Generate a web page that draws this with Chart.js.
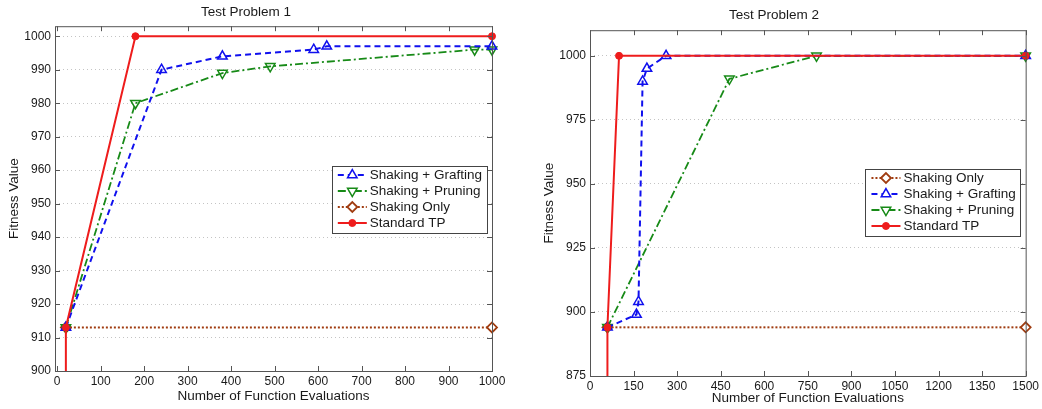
<!DOCTYPE html>
<html>
<head>
<meta charset="utf-8">
<script src="https://cdn.jsdelivr.net/npm/chart.js@4.4.1/dist/chart.umd.min.js"></script>
<style>
    html, body { margin: 0; padding: 0; background: #fff; }
    .wrap { position: absolute; top: 0; height: 409px; }
    #w1 { left: 0; width: 520px; }
    #w2 { left: 520px; width: 522px; }
</style>
</head>
<body>
<div class="wrap" id="w1"><canvas id="chart1"></canvas></div>
<div class="wrap" id="w2"><canvas id="chart2"></canvas></div>
<script>
// Test Problem 1 data
const tp1XTicks = [0, 100, 200, 300, 400, 500, 600, 700, 800, 900, 1000];
const tp1YTicks = [900, 910, 920, 930, 940, 950, 960, 970, 980, 990, 1000];
const tp1GraftX = [20, 240, 380, 590, 620, 1000];
const tp1GraftY = [913, 990, 994, 996, 997, 997];
const tp1PruneX = [20, 180, 380, 490, 960, 1000];
const tp1PruneY = [913, 980, 989, 991, 996, 996];
const tp1ShakeX = [20, 1000];
const tp1ShakeY = [913, 913];
const tp1StdX = [20, 20, 180, 1000];
const tp1StdY = [880, 913, 1000, 1000];

// Test Problem 2 data
const tp2XTicks = [0, 150, 300, 450, 600, 750, 900, 1050, 1200, 1350, 1500];
const tp2YTicks = [875, 900, 925, 950, 975, 1000];
const tp2ShakeX = [60, 1500];
const tp2ShakeY = [894, 894];
const tp2GraftX = [60, 160, 167, 181, 196, 262, 1500];
const tp2GraftY = [894, 899, 904, 990, 995, 1000, 1000];
const tp2PruneX = [60, 480, 780, 1500];
const tp2PruneY = [894, 991, 1000, 1000];
const tp2StdX = [60, 60, 100, 1500];
const tp2StdY = [860, 894, 1000, 1000];

const FONT = '"Liberation Sans", Arial, Helvetica, sans-serif';
const TEXT = '#1a1a1a';
const AXIS = '#555555';

function pts(xs, ys) {
    return xs.map((x, i) => ({ x: x, y: ys[i] }));
}

// Series styles (MATLAB-like)
function graftSet(xs, ys) {
    return {
        label: 'Shaking + Grafting', data: pts(xs, ys),
        borderColor: '#1010ee', borderWidth: 2, borderDash: [6, 4],
        pointStyle: 'triangle', pointRadius: 5.5, pointBorderWidth: 1.5,
        pointBackgroundColor: 'rgba(255,255,255,0)', pointBorderColor: '#1010ee',
        order: 2, clip: { left: 10, right: 10, top: 10, bottom: 10 }
    };
}
function pruneSet(xs, ys) {
    return {
        label: 'Shaking + Pruning', data: pts(xs, ys),
        borderColor: '#178a17', borderWidth: 1.8, borderDash: [8, 3, 2, 3],
        pointStyle: 'triangle', pointRotation: 180, pointRadius: 5.5, pointBorderWidth: 1.5,
        pointBackgroundColor: 'rgba(255,255,255,0)', pointBorderColor: '#178a17',
        order: 3, clip: { left: 10, right: 10, top: 10, bottom: 10 }
    };
}
function shakeSet(xs, ys) {
    return {
        label: 'Shaking Only', data: pts(xs, ys),
        borderColor: '#a03c10', borderWidth: 2, borderDash: [2, 2],
        pointStyle: 'rectRot', pointRadius: 5, pointBorderWidth: 1.8,
        pointBackgroundColor: '#ffffff', pointBorderColor: '#a03c10',
        order: 4, clip: { left: 10, right: 10, top: 10, bottom: 10 }
    };
}
function stdSet(xs, ys) {
    return {
        label: 'Standard TP', data: pts(xs, ys),
        borderColor: '#ee1c1c', borderWidth: 2,
        pointStyle: 'circle', pointRadius: xs.map((x, i) => i === 0 ? 0 : 3.5), pointBorderWidth: 1,
        pointBackgroundColor: '#ee1c1c', pointBorderColor: '#ee1c1c',
        order: 1, clip: { left: 10, right: 10, top: 10, bottom: 0 }
    };
}

// Box, inward ticks and legend drawn MATLAB style
const matlabPlugin = {
    id: 'matlab',
    afterDatasetsDraw(chart, args, opts) {
        const ctx = chart.ctx;
        const a = chart.chartArea;
        const xs = chart.scales.x, ys = chart.scales.y;
        ctx.save();
        ctx.strokeStyle = AXIS;
        ctx.lineWidth = 1;
        ctx.setLineDash([]);
        ctx.strokeRect(a.left + 0.5, a.top + 0.5, a.right - a.left, a.bottom - a.top);
        ctx.beginPath();
        xs.ticks.forEach(t => {
            const px = Math.round(xs.getPixelForValue(t.value)) + 0.5;
            ctx.moveTo(px, a.bottom); ctx.lineTo(px, a.bottom - 5);
            ctx.moveTo(px, a.top); ctx.lineTo(px, a.top + 5);
        });
        ys.ticks.forEach(t => {
            const py = Math.round(ys.getPixelForValue(t.value)) + 0.5;
            ctx.moveTo(a.left, py); ctx.lineTo(a.left + 5, py);
            ctx.moveTo(a.right, py); ctx.lineTo(a.right - 5, py);
        });
        ctx.stroke();

        // legend
        ctx.font = '13.5px ' + FONT;
        const items = opts.order.map(i => chart.data.datasets[i]);
        let tw = 0;
        items.forEach(d => { tw = Math.max(tw, ctx.measureText(d.label).width); });
        const rowH = 16;
        const w = 38 + tw + 5;
        const h = items.length * rowH + 3;
        const right = a.right - 5;
        const left = right - w;
        const top = opts.top;
        ctx.fillStyle = '#ffffff';
        ctx.fillRect(left, top, w, h);
        ctx.strokeStyle = '#444444';
        ctx.strokeRect(Math.round(left) + 0.5, top + 0.5, Math.round(w), h);
        items.forEach((d, i) => {
            const cy = top + 9 + i * rowH;
            ctx.strokeStyle = d.borderColor;
            ctx.lineWidth = d.borderWidth;
            ctx.setLineDash(d.borderDash || []);
            ctx.beginPath();
            ctx.moveTo(left + 6, cy);
            ctx.lineTo(left + 35, cy);
            ctx.stroke();
            ctx.setLineDash([]);
            ctx.strokeStyle = d.pointBorderColor;
            ctx.fillStyle = d.pointBackgroundColor === 'rgba(255,255,255,0)' ? '#ffffff' : d.pointBackgroundColor;
            ctx.lineWidth = d.pointBorderWidth;
            const r = Array.isArray(d.pointRadius) ? d.pointRadius[1] : d.pointRadius;
            Chart.helpers.drawPoint(ctx, {
                pointStyle: d.pointStyle, rotation: d.pointRotation || 0,
                radius: r, borderWidth: d.pointBorderWidth
            }, left + 20.5, cy);
            ctx.fillStyle = TEXT;
            ctx.textBaseline = 'middle';
            ctx.textAlign = 'left';
            ctx.fillText(d.label, left + 38, cy + 0.5);
        });
        ctx.restore();
    }
};

function makeChart(id, cfg) {
    return new Chart(document.getElementById(id), {
        type: 'line',
        data: { datasets: cfg.datasets },
        options: {
            responsive: true,
            maintainAspectRatio: false,
            animation: false,
            layout: { padding: { left: 0, right: cfg.padRight, top: 0, bottom: 0 } },
            plugins: {
                legend: { display: false },
                tooltip: { enabled: false },
                title: {
                    display: true, text: cfg.title, color: TEXT,
                    font: { family: FONT, size: 13.5, weight: 'normal' },
                    padding: { top: cfg.titleTop, bottom: cfg.titleBottom }
                },
                matlab: { order: cfg.legendOrder, top: cfg.legendTop }
            },
            elements: { line: { tension: 0 } },
            scales: {
                x: {
                    type: 'linear', min: cfg.xMin, max: cfg.xMax,
                    afterBuildTicks: s => { s.ticks = cfg.xTicks.map(v => ({ value: v })); },
                    afterFit: s => { s.height = cfg.xHeight; },
                    grid: { display: false, drawTicks: false },
                    border: { display: false },
                    ticks: {
                        color: TEXT, padding: 3, maxRotation: 0, autoSkip: false,
                        font: { family: FONT, size: 12 },
                        callback: v => String(v)
                    },
                    title: {
                        display: true, text: 'Number of Function Evaluations', color: TEXT,
                        font: { family: FONT, size: 13.5 },
                        padding: { top: 0, bottom: cfg.xTitlePad }
                    }
                },
                y: {
                    type: 'linear', min: cfg.yMin, max: cfg.yMax,
                    afterBuildTicks: s => { s.ticks = cfg.yTicks.map(v => ({ value: v })); },
                    afterFit: s => { s.width = cfg.yWidth; },
                    grid: { display: true, drawTicks: false, color: '#c4c4c4', lineWidth: 1 },
                    border: { display: false, dash: [1, 3] },
                    ticks: {
                        color: TEXT, padding: 4, autoSkip: false,
                        font: { family: FONT, size: 12 },
                        callback: v => String(v)
                    },
                    title: {
                        display: true, text: 'Fitness Value', color: TEXT,
                        font: { family: FONT, size: 13.5 },
                        padding: { top: cfg.yTitlePad, bottom: 0 }
                    }
                }
            }
        },
        plugins: [matlabPlugin]
    });
}

makeChart('chart1', {
    title: 'Test Problem 1',
    datasets: [
        graftSet(tp1GraftX, tp1GraftY),
        pruneSet(tp1PruneX, tp1PruneY),
        shakeSet(tp1ShakeX, tp1ShakeY),
        stdSet(tp1StdX, tp1StdY)
    ],
    legendOrder: [0, 1, 2, 3], legendTop: 166,
    xMin: -5, xMax: 1000, xTicks: tp1XTicks,
    yMin: 900, yMax: 1003, yTicks: tp1YTicks,
    padRight: 28, yWidth: 55, xHeight: 38,
    titleTop: 4, titleBottom: 6, xTitlePad: 5, yTitlePad: 6
});

makeChart('chart2', {
    title: 'Test Problem 2',
    datasets: [
        shakeSet(tp2ShakeX, tp2ShakeY),
        graftSet(tp2GraftX, tp2GraftY),
        pruneSet(tp2PruneX, tp2PruneY),
        stdSet(tp2StdX, tp2StdY)
    ],
    legendOrder: [0, 1, 2, 3], legendTop: 169,
    xMin: 0, xMax: 1500, xTicks: tp2XTicks,
    yMin: 875, yMax: 1010, yTicks: tp2YTicks,
    padRight: 14, yWidth: 70, xHeight: 33,
    titleTop: 7, titleBottom: 7, xTitlePad: 3, yTitlePad: 21
});
</script>
</body>
</html>
